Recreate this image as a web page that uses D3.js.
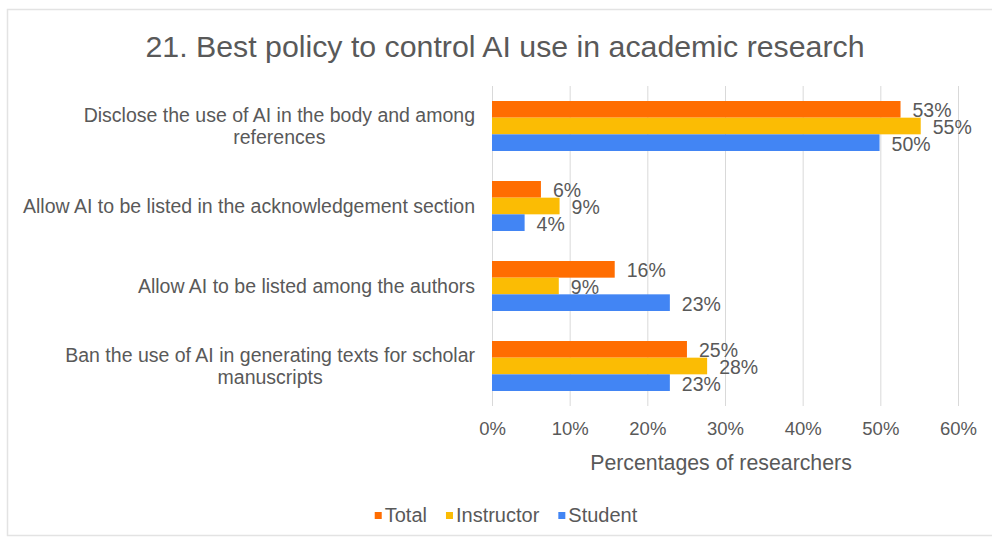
<!DOCTYPE html>
<html>
<head>
<meta charset="utf-8">
<script src="https://cdn.jsdelivr.net/npm/d3@7"></script>
<style>
  html, body { margin: 0; padding: 0; background: #fff; }
  svg { display: block; font-family: Arial, "Liberation Sans", sans-serif; }
</style>
</head>
<body>
<svg id="chart" width="992" height="540"></svg>
<script>
const title = "21. Best policy to control AI use in academic research";
const categories = [
  "Disclose the use of AI in the body and among|references",
  "Allow AI to be listed in the acknowledgement section",
  "Allow AI to be listed among the authors",
  "Ban the use of AI in generating texts for scholar|manuscripts"
];
const seriesNames = ["Total", "Instructor", "Student"];
const totalValues = [52.6, 6.3, 15.8, 25.1];
const instructorValues = [55.2, 8.7, 8.6, 27.7];
const studentValues = [49.9, 4.2, 22.9, 22.9];
const seriesColors = ["#FF6D01", "#FBBC04", "#4285F4"];
const tickValues = [0, 10, 20, 30, 40, 50, 60];
const xAxisTitle = "Percentages of researchers";

const seriesValues = [totalValues, instructorValues, studentValues];
const textColor = "#595959";

const svg = d3.select("#chart");

// chart border
svg.append("rect")
  .attr("x", 7.5).attr("y", 9.5)
  .attr("width", 1000).attr("height", 526)
  .attr("fill", "#fff").attr("stroke", "#e3e3e3").attr("stroke-width", 1.5);

// title
svg.append("text")
  .attr("x", 505).attr("y", 57)
  .attr("text-anchor", "middle")
  .attr("font-size", 30.3)
  .attr("fill", textColor)
  .text(title);

const x = d3.scaleLinear().domain([0, 60]).range([492, 958]);
const y = d3.scaleBand().domain(categories).range([86, 406])
  .paddingInner(0.375).paddingOuter(0.1875);
const ySub = d3.scaleBand().domain(seriesNames).range([0, y.bandwidth()]).padding(0);

// gridlines
svg.append("g").selectAll("line")
  .data(tickValues)
  .join("line")
  .attr("x1", d => x(d) + 0.5).attr("x2", d => x(d) + 0.5)
  .attr("y1", 86).attr("y2", 406)
  .attr("stroke", "#d9d9d9").attr("stroke-width", 1);

// axis
const axis = d3.axisBottom(x).tickValues(tickValues).tickFormat(d => d + "%").tickSize(0).tickPadding(0);
const axisG = svg.append("g").attr("transform", "translate(0,422)").call(axis);
axisG.select(".domain").remove();
axisG.selectAll("text")
  .attr("font-size", 18.5)
  .attr("fill", textColor)
  .attr("font-family", "Arial, 'Liberation Sans', sans-serif");

// axis title
svg.append("text")
  .attr("x", 721).attr("y", 470)
  .attr("text-anchor", "middle")
  .attr("font-size", 21.3)
  .attr("fill", textColor)
  .text(xAxisTitle);

// bars
const rows = [];
categories.forEach((c, i) => {
  seriesNames.forEach((s, j) => {
    rows.push({ cat: c, series: s, value: seriesValues[j][i], color: seriesColors[j] });
  });
});

svg.append("g").selectAll("rect")
  .data(rows)
  .join("rect")
  .attr("x", x(0))
  .attr("y", d => y(d.cat) + ySub(d.series))
  .attr("width", d => x(d.value) - x(0))
  .attr("height", ySub.bandwidth())
  .attr("fill", d => d.color);

// data labels
svg.append("g").selectAll("text")
  .data(rows)
  .join("text")
  .attr("x", d => x(d.value) + 12)
  .attr("y", d => y(d.cat) + ySub(d.series) + ySub.bandwidth() / 2 + 1)
  .attr("dominant-baseline", "central")
  .attr("font-size", 19.5)
  .attr("fill", textColor)
  .text(d => d3.format(".0f")(d.value) + "%");

// category labels
const catG = svg.append("g");
categories.forEach(c => {
  const lines = c.split("|");
  const cy = y(c) + y.bandwidth() / 2;
  const lh = 22;
  const t = catG.append("text")
    .attr("font-size", 19.5)
    .attr("fill", textColor)
    .attr("text-anchor", "middle");
  const spans = lines.map((l, k) => t.append("tspan")
    .attr("y", cy + (k - (lines.length - 1) / 2) * lh)
    .attr("dominant-baseline", "central")
    .text(l));
  const widths = spans.map(s => s.node().getComputedTextLength());
  const maxW = d3.max(widths);
  const center = 475 - maxW / 2;
  spans.forEach(s => s.attr("x", center));
});

// legend
const legend = svg.append("g");
const items = [];
seriesNames.forEach((s, i) => {
  const g = legend.append("g");
  g.append("rect").attr("x", 0).attr("y", -3).attr("width", 7).attr("height", 7).attr("fill", seriesColors[i]);
  const tx = g.append("text").attr("x", 10).attr("y", 0)
    .attr("dominant-baseline", "central")
    .attr("font-size", 20).attr("fill", textColor).text(s);
  const w = 10 + tx.node().getComputedTextLength();
  items.push({ g, w });
});
const gap = 19;
const totalW = d3.sum(items, d => d.w) + gap * (items.length - 1);
let cx = 506 - totalW / 2;
items.forEach(it => {
  it.g.attr("transform", `translate(${cx},515)`);
  cx += it.w + gap;
});
</script>
</body>
</html>
